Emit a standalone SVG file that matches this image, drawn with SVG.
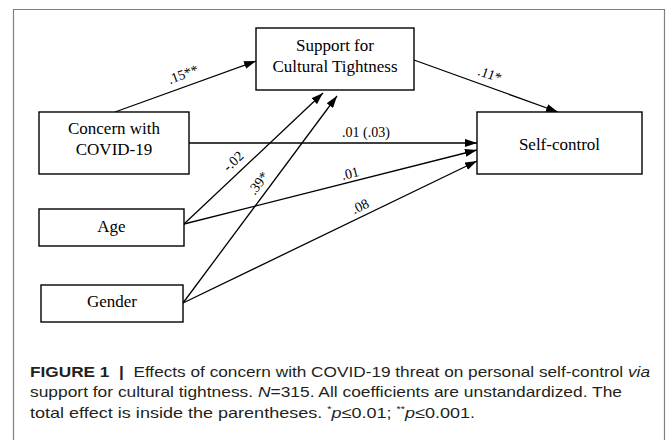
<svg xmlns="http://www.w3.org/2000/svg" width="668" height="440" viewBox="0 0 668 440">
<style>
.box{fill:#fff;stroke:#000;stroke-width:1.4}
.nt{font-family:"Liberation Serif","Times New Roman",serif;font-size:17px;fill:#000;text-anchor:middle}
.lb{font-family:"Liberation Serif","Times New Roman",serif;font-size:14px;fill:#000;text-anchor:middle}
.ln{stroke:#000;stroke-width:1.3;fill:none;marker-end:url(#ah)}
.cap{font-family:"Liberation Sans",Arial,sans-serif;font-size:15px;fill:#231f20}
</style>
<defs>
<marker id="ah" viewBox="0 0 12 8" refX="12" refY="4" markerWidth="12" markerHeight="8" markerUnits="userSpaceOnUse" orient="auto">
<path d="M0,0 L12,4 L0,8 z" fill="#000"/>
</marker>
</defs>
<rect x="0" y="0" width="668" height="440" fill="#fff"/>
<path d="M13.5,445 V9.5 H664.5 V445" fill="none" stroke="#808080" stroke-width="1.2"/>
<g id="connectors">
<line class="ln" x1="115" y1="112" x2="256" y2="61"/>
<line class="ln" x1="414" y1="60" x2="558" y2="112"/>
<line class="ln" x1="189" y1="143" x2="477" y2="143"/>
<line class="ln" x1="184" y1="224" x2="477" y2="150"/>
<line class="ln" x1="183" y1="303" x2="477" y2="161"/>
<line class="ln" x1="184" y1="224" x2="323" y2="93"/>
<line class="ln" x1="183" y1="303" x2="337" y2="96"/>
<text class="lb" transform="translate(183,74) rotate(-20.2)" y="5">.15**</text>
<text class="lb" transform="translate(490,74) rotate(19.5)" y="5">.11*</text>
<text class="lb" x="366" y="137">.01 (.03)</text>
<text class="lb" transform="translate(233,161) rotate(-43.3)" y="5">-.02</text>
<text class="lb" transform="translate(258,183) rotate(-53.4)" y="5">.39*</text>
<text class="lb" transform="translate(350,173) rotate(-14.4)" y="5">.01</text>
<text class="lb" transform="translate(360,206) rotate(-25.9)" y="5">.08</text>
</g>
<g id="support">
<rect class="box" x="256" y="28" width="158" height="62"/>
<text class="nt" x="335" y="51">Support for</text>
<text class="nt" x="335" y="72">Cultural Tightness</text>
</g>
<g id="concern">
<rect class="box" x="39" y="112" width="150" height="62"/>
<text class="nt" x="114" y="134">Concern with</text>
<text class="nt" x="114" y="155">COVID-19</text>
</g>
<g id="age">
<rect class="box" x="39" y="209" width="145" height="37"/>
<text class="nt" x="111.5" y="232">Age</text>
</g>
<g id="gender">
<rect class="box" x="41" y="285" width="142" height="37"/>
<text class="nt" x="112" y="307">Gender</text>
</g>
<g id="selfcontrol">
<rect class="box" x="477" y="112" width="165" height="62"/>
<text class="nt" x="559.5" y="150">Self-control</text>
</g>
<g id="caption">
<text class="cap" x="30" y="377" textLength="620" lengthAdjust="spacingAndGlyphs"><tspan font-weight="bold">FIGURE 1</tspan>&#160; <tspan font-weight="bold">|</tspan>&#160; Effects of concern with COVID-19 threat on personal self-control <tspan font-style="italic">via</tspan></text>
<text class="cap" x="30" y="397" textLength="592" lengthAdjust="spacingAndGlyphs">support for cultural tightness. <tspan font-style="italic">N</tspan>=315. All coefficients are unstandardized. The</text>
<text class="cap" x="30" y="418" textLength="445" lengthAdjust="spacingAndGlyphs">total effect is inside the parentheses. <tspan font-size="9" dy="-6">*</tspan><tspan font-style="italic" dy="6">p</tspan>≤0.01; <tspan font-size="9" dy="-6">**</tspan><tspan font-style="italic" dy="6">p</tspan>≤0.001.</text>
</g>
</svg>
